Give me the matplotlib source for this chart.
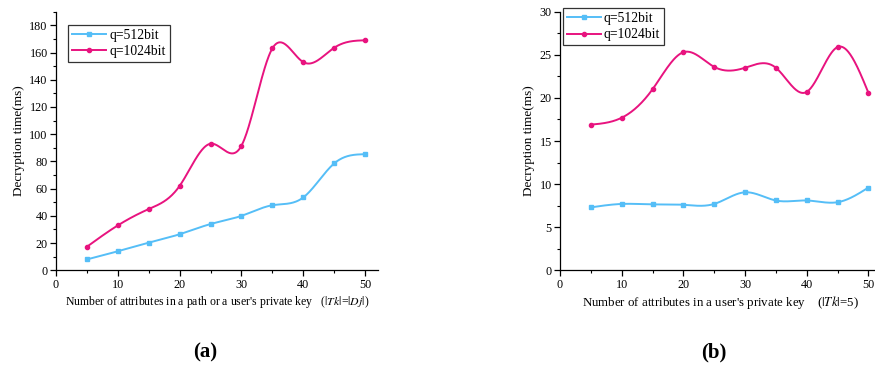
import numpy as np
import matplotlib
matplotlib.use("Agg")
import matplotlib.pyplot as plt
from matplotlib.ticker import MultipleLocator

plt.rcParams['font.family'] = ['Liberation Serif', 'DejaVu Serif']
plt.rcParams['mathtext.fontset'] = 'stix'

x_vals = [5, 10, 15, 20, 25, 30, 35, 40, 45, 50]
a_q512 = [8.0, 14.0, 20.3, 26.5, 34.0, 40.0, 47.8, 53.5, 78.5, 85.3]
a_q1024 = [17.3, 33.0, 45.0, 62.0, 93.0, 91.5, 163.0, 153.0, 163.5, 169.0]
b_q512 = [7.3, 7.7, 7.65, 7.6, 7.7, 9.05, 8.1, 8.1, 7.9, 9.6]
b_q1024 = [16.9, 17.7, 21.0, 25.3, 23.6, 23.5, 23.5, 20.7, 25.9, 20.6]
labels = ['q=512bit', 'q=1024bit']

BLUE = '#55BEF7'
PINK = '#E8137F'


def natural_spline(x, y, n=400):
    x = np.asarray(x, float); y = np.asarray(y, float)
    m = len(x)
    h = np.diff(x)
    A = np.zeros((m, m)); r = np.zeros(m)
    A[0, 0] = 1; A[-1, -1] = 1
    for i in range(1, m - 1):
        A[i, i - 1] = h[i - 1]
        A[i, i] = 2 * (h[i - 1] + h[i])
        A[i, i + 1] = h[i]
        r[i] = 6 * ((y[i + 1] - y[i]) / h[i] - (y[i] - y[i - 1]) / h[i - 1])
    M = np.linalg.solve(A, r)
    xs = np.linspace(x[0], x[-1], n)
    idx = np.clip(np.searchsorted(x, xs) - 1, 0, m - 2)
    x0 = x[idx]; x1 = x[idx + 1]; hh = x1 - x0
    ys = (M[idx] * (x1 - xs) ** 3 / (6 * hh) + M[idx + 1] * (xs - x0) ** 3 / (6 * hh)
          + (y[idx] / hh - M[idx] * hh / 6) * (x1 - xs)
          + (y[idx + 1] / hh - M[idx + 1] * hh / 6) * (xs - x0))
    return xs, ys


fig = plt.figure(figsize=(8.75, 3.71), dpi=100)
axA = fig.add_axes([0.064, 0.2714, 0.368, 0.697])
axB = fig.add_axes([0.640, 0.2714, 0.3595, 0.697])


def draw(ax, s1, s2, ylim, ymaj, ymin, xlim, legloc):
    for s, c, mk, lab in [(s1, BLUE, 's', labels[0]), (s2, PINK, 'o', labels[1])]:
        xs, ys = natural_spline(x_vals, s)
        ax.plot(xs, ys, color=c, lw=1.4, zorder=2)
        ax.plot(x_vals, s, ls='none', marker=mk, ms=3, color=c, zorder=3)
        ax.plot([], [], color=c, lw=1.4, marker=mk, ms=3, label=lab)
    ax.set_xlim(*xlim)
    ax.set_ylim(*ylim)
    for sp in ['top', 'right']:
        ax.spines[sp].set_visible(False)
    for sp in ['left', 'bottom']:
        ax.spines[sp].set_linewidth(0.9)
    ax.xaxis.set_major_locator(MultipleLocator(10))
    ax.xaxis.set_minor_locator(MultipleLocator(5))
    ax.yaxis.set_major_locator(MultipleLocator(ymaj))
    ax.yaxis.set_minor_locator(MultipleLocator(ymin))
    ax.tick_params(which='major', direction='out', length=4, width=0.9, labelsize=8.7, pad=2)
    ax.tick_params(which='minor', direction='out', length=2, width=0.8)
    ax.set_ylabel('Decryption time(ms)', fontsize=9.5, labelpad=3)
    leg = ax.legend(loc='upper left', bbox_to_anchor=legloc, frameon=True, fancybox=False,
                    fontsize=9.8, handlelength=2.5, handletextpad=0.2, borderpad=0.3,
                    labelspacing=0.25, borderaxespad=0)
    leg.get_frame().set_edgecolor('black')
    leg.get_frame().set_linewidth(0.9)


draw(axA, a_q512, a_q1024, (0, 190), 20, 10, (0, 52.1), (0.038, 0.95))
draw(axB, b_q512, b_q1024, (0, 30), 5, 2.5, (0, 51.0), (0.01, 1.015))

fig.text(0.248, 0.185, "Number of attributes in a path or a user's private key   ($|Tk|$=$|Dj|$)",
         ha='center', va='center', fontsize=8.5)
fig.text(0.823, 0.185, "Number of attributes in a user's private key    ($|Tk|$=5)",
         ha='center', va='center', fontsize=9.3)
fig.text(0.235, 0.05, "(a)", ha='center', va='center', fontsize=15, fontweight='bold')
fig.text(0.816, 0.05, "(b)", ha='center', va='center', fontsize=15, fontweight='bold')

fig.savefig('out.png', dpi=100)
